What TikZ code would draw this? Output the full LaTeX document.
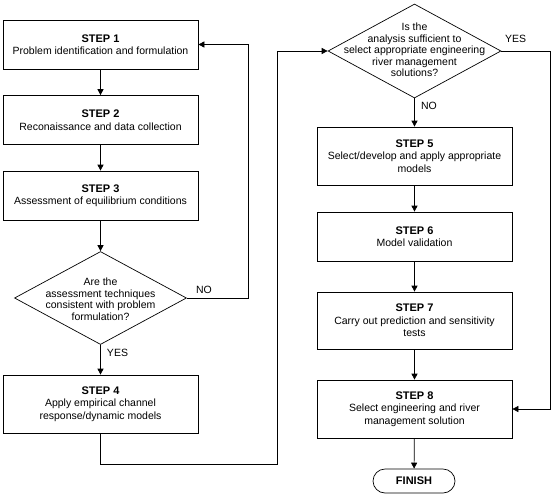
\documentclass[tikz,border=0pt]{standalone}
\usepackage{fontspec}
\setmainfont{Liberation Sans}
\usetikzlibrary{arrows.meta,shapes.geometric}

\newcommand{\steptitle}[1]{{\fontsize{11}{12.5}\selectfont\bfseries #1}}

\begin{document}
\begin{tikzpicture}[x=1pt, y=-1pt,
    stepbox/.style={draw, line width=0.7pt, minimum width=195pt, minimum height=49pt,
        inner sep=0pt, align=center, font=\fontsize{10.5}{12.5}\selectfont},
    tallbox/.style={stepbox, minimum height=58pt},
    decision/.style={draw, line width=0.7pt, shape=diamond, inner sep=0pt,
        minimum width=172pt, minimum height=93pt},
    question/.style={align=center, inner sep=0pt, font=\fontsize{10.5}{11.5}\selectfont},
    lbl/.style={inner sep=0pt, font=\fontsize{10.5}{12}\selectfont},
    flow/.style={line width=0.7pt, -{Triangle[length=6pt,width=6pt]}},
    finishbox/.style={draw, line width=0.7pt, rounded corners=12pt, minimum width=82pt,
        minimum height=24pt, inner sep=0pt, font=\fontsize{11}{12}\selectfont\bfseries}]
    \useasboundingbox (0,0) rectangle (553,495);

    % Left column
    \node[stepbox] (s1) at (100.5,44.5) {\steptitle{STEP 1}\\Problem identification and formulation};
    \node[stepbox] (s2) at (100.5,120) {\steptitle{STEP 2}\\Reconaissance and data collection};
    \node[stepbox] (s3) at (100.5,195.5) {\steptitle{STEP 3}\\Assessment of equilibrium conditions};
    \node[decision] (q1) at (100.5,298) {};
    \node[question] (q1text) at (100.5,299) {Are the\\assessment techniques\\consistent with problem\\formulation?};
    \node[tallbox] (s4) at (100.5,404) {\steptitle{STEP 4}\\Apply empirical channel\\response/dynamic models};

    % Right column
    \node[decision, minimum width=173pt, minimum height=94pt] (q2) at (414.5,51) {};
    \node[question] (q2text) at (414.5,50) {Is the\\analysis sufficient to\\select appropriate engineering\\river management\\solutions?};
    \node[tallbox] (s5) at (414.5,156) {\steptitle{STEP 5}\\Select/develop and apply appropriate\\models};
    \node[stepbox] (s6) at (414.5,236.5) {\steptitle{STEP 6}\\Model validation};
    \node[tallbox, minimum height=57pt] (s7) at (414.5,320.5) {\steptitle{STEP 7}\\Carry out prediction and sensitivity\\tests};
    \node[tallbox] (s8) at (414.5,409) {\steptitle{STEP 8}\\Select engineering and river\\management solution};
    \node[finishbox] (finish) at (414,481) {FINISH};

    % Straight arrows
    \draw[flow] (s1) -- (s2);
    \draw[flow] (s2) -- (s3);
    \draw[flow] (s3) -- (q1.north);
    \draw[flow] (q1.south) -- (s4);
    \draw[flow] (q2.south) -- (s5);
    \draw[flow] (s5) -- (s6);
    \draw[flow] (s6) -- (s7);
    \draw[flow] (s7) -- (s8);
    \draw[flow] (s8) -- (finish);

    % Loops back and across
    \draw[flow] (q1.east) -- ++(61,0) |- (s1.east);
    \draw[flow] (s4.south) -- ++(0,31) -- ++(176.5,0) |- (q2.west);
    \draw[flow] (q2.east) -- ++(49,0) |- (s8.east);

    % Branch labels
    \node[lbl] (no1) at (204,290) {NO};
    \node[lbl] (yes1) at (117.5,353) {YES};
    \node[lbl] (yes2) at (515.5,39) {YES};
    \node[lbl] (no2) at (429,106) {NO};
\end{tikzpicture}
\end{document}
